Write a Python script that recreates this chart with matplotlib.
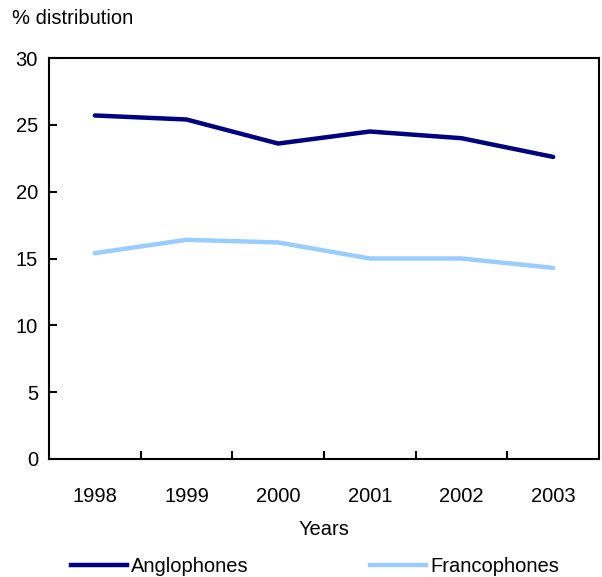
import matplotlib
matplotlib.use("Agg")
import matplotlib.pyplot as plt
from matplotlib.lines import Line2D

plt.rcParams['font.family'] = ['Liberation Sans', 'DejaVu Sans']

years = ["1998", "1999", "2000", "2001", "2002", "2003"]
anglophones = [25.7, 25.4, 23.6, 24.5, 24.0, 22.6]
francophones = [15.4, 16.4, 16.2, 15.0, 15.0, 14.3]
y_ticks = [0, 5, 10, 15, 20, 25, 30]

FS = 14.5

fig = plt.figure(figsize=(6.02, 5.77), dpi=100)
ax = fig.add_axes([49/602, 1-459/577, 550/602, (459-58)/577])

x = list(range(len(years)))
ax.plot(x, anglophones, color="#000080", lw=3.2, solid_capstyle="round")
ax.plot(x, francophones, color="#99CCFF", lw=3.2, solid_capstyle="round")

ax.set_xlim(-0.5, len(years) - 0.5)
ax.set_ylim(0, 30)
ax.set_yticks(y_ticks)
ax.set_yticklabels([str(v) for v in y_ticks], fontsize=FS)
ax.set_xticks([i + 0.5 for i in range(len(years) - 1)])
ax.set_xticklabels([])
ax.set_xticks(x, minor=True)
ax.set_xticklabels(years, minor=True, fontsize=FS)
ax.tick_params(axis='x', which='minor', length=0, pad=20)
ax.tick_params(axis='x', which='major', direction='in', length=6, width=1.5)
ax.tick_params(axis='y', direction='in', length=6, width=1.5, pad=8)
for s in ax.spines.values():
    s.set_linewidth(1.5)

ax.set_xlabel("Years", fontsize=FS, labelpad=10)
fig.text(12/602, 1-18/577, "% distribution", fontsize=FS, va='center', ha='left')

handles = [Line2D([], [], color="#000080", lw=3.2),
           Line2D([], [], color="#99CCFF", lw=3.2)]
fig.legend(handles, ["Anglophones", "Francophones"], loc='center',
           bbox_to_anchor=(0.523, 1-567/577), ncol=2, frameon=False, fontsize=FS,
           handlelength=2.8, handletextpad=0.2, columnspacing=6.0)

fig.savefig("out.png", dpi=100)
